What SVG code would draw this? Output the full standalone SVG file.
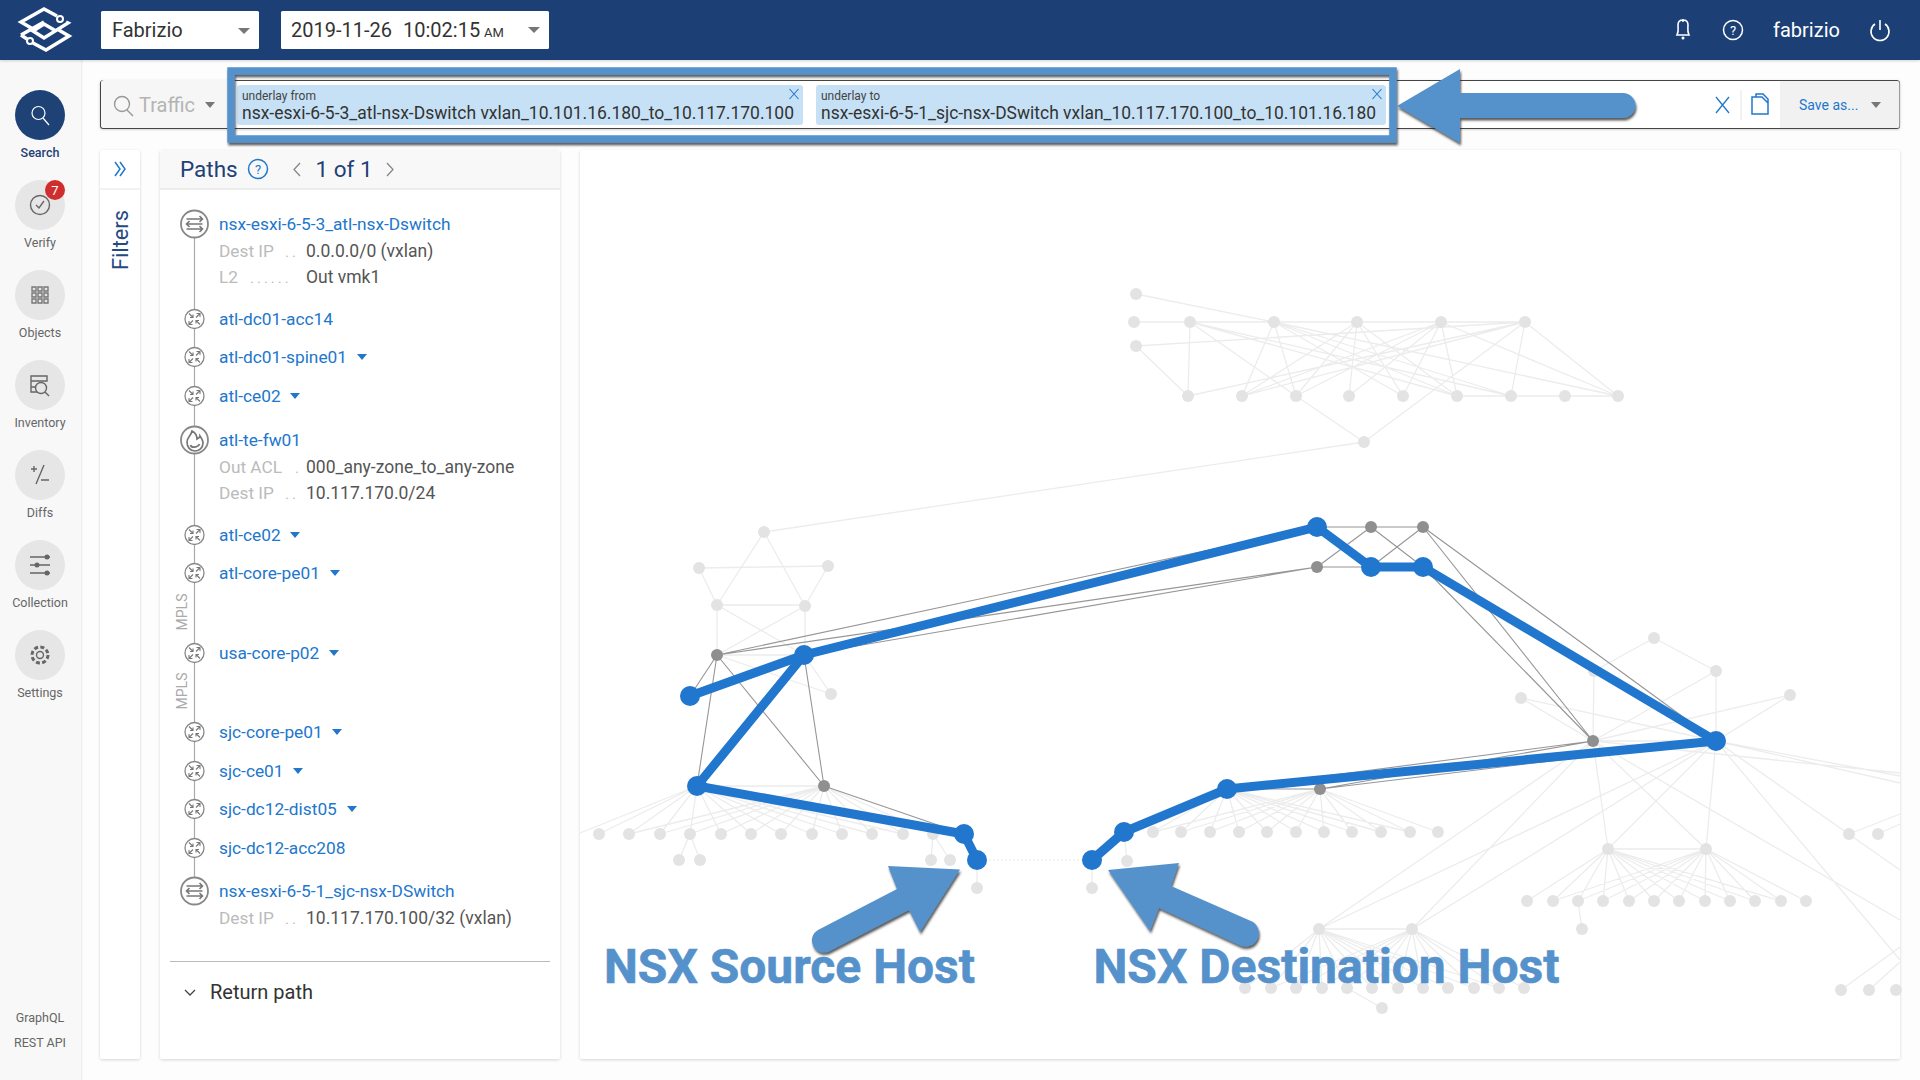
<svg xmlns="http://www.w3.org/2000/svg" xmlns:xlink="http://www.w3.org/1999/xlink" width="1920" height="1080" viewBox="0 0 1920 1080">
<style>
text{font-family:Roboto,"Liberation Sans",sans-serif}
.side{font-size:12.5px;fill:#666;text-anchor:middle}
.link{font-size:17.300px;fill:#2277cc}
.lab{font-size:17.300px;fill:#bbb}
.val{font-size:17.500px;fill:#555}
.dots{font-size:15px;fill:#bbb;letter-spacing:3px}
.mpls{font-size:14px;fill:#aaa;text-anchor:middle}
.tri{fill:#2277cc}
.gtri{fill:#777}
.cir{fill:#e6e6e6}
.ic{fill:none;stroke:#666;stroke-width:1.4}
.icw{fill:none;stroke:#fff;stroke-width:1.8}
.bl{fill:none;stroke:#2277cc;stroke-width:1.5}
.panel{fill:#fff;filter:url(#soft)}
.le{fill:none;stroke:#ececec;stroke-width:1.3}
.de{fill:none;stroke:#969696;stroke-width:1.1}
.be{fill:none;stroke:#2176cd;stroke-width:9;stroke-linejoin:round}
.ln circle{fill:#e3e3e3;r:6px}
.dn circle{fill:#8f8f8f;r:6px}
.bn circle{fill:#2176cd;r:10px}
.big{font-size:47.5px;font-weight:700;fill:#5592cc;stroke:#5592cc;stroke-width:.6}
.ann{fill:#5592cc;filter:url(#sh)}
</style>
<defs>
<filter id="sh" x="-10%" y="-10%" width="125%" height="125%"><feDropShadow dx="1" dy="2.5" stdDeviation="1" flood-color="#222" flood-opacity=".75"/></filter>
<filter id="soft" x="-5%" y="-5%" width="110%" height="110%"><feDropShadow dx="0" dy="1" stdDeviation="1.5" flood-color="#000" flood-opacity=".16"/></filter>
<g id="rt"><circle r="9.5" fill="#fff" stroke="#888" stroke-width="1.3"/><path class="ic" style="stroke:#777;stroke-width:1.1" d="M-5.500-5.500L-1.500-1.500M-1.500-4.500V-1.500H-4.500M5.500-5.500L1.500-1.500M2-5.500H5.500V-2M-5.500 5.500L-1.500 1.500M-5.500 2V5.500H-2M5.500 5.500L1.500 1.500M1.500 4.500V1.500H4.500"/></g>
<g id="sw"><circle r="13.500" fill="#fff" stroke="#888" stroke-width="1.800"/><path class="ic" style="stroke:#777;stroke-width:1.600" d="M-8-5H8M5-8L8-5 5-2M-8 0H8M-5-3L-8 0-5 3M-8 5H8M5 2L8 5 5 8"/></g>
<g id="chip-x"><path class="bl" d="M-4.500-5L4.500 5M4.500-5L-4.500 5" style="stroke-width:1.1"/></g>
</defs>
<rect width="1920" height="1080" fill="#fdfdfd"/>

<g id="sidebar">
<rect width="81" height="1080" fill="#f8f8f8" filter="url(#soft)"/>
<g id="nav-search"><circle cx="40" cy="115" r="25" fill="#1e4176"/><circle cx="38.500" cy="113" r="6.500" class="icw" style="stroke-width:1.2"/><path class="icw" style="stroke-width:1.2" d="M43 118L49 125"/><text x="40" y="157" class="side" style="fill:#1e4176;font-weight:500">Search</text></g>
<g id="nav-verify"><circle cx="40" cy="205" r="25" class="cir"/><circle cx="40" cy="205" r="9.500" class="ic"/><path class="ic" d="M36 205L39 208 44 201"/><text x="40" y="247" class="side">Verify</text><circle cx="55" cy="190" r="10" fill="#d02e2e"/><text x="55" y="195" text-anchor="middle" font-size="13" fill="#fff">7</text></g>
<g id="nav-objects"><circle cx="40" cy="295" r="25" class="cir"/><path class="ic" style="stroke:#777" d="M32 287h4v4h-4zM38 287h4v4h-4zM44 287h4v4h-4zM32 293h4v4h-4zM38 293h4v4h-4zM44 293h4v4h-4zM32 299h4v4h-4zM38 299h4v4h-4zM44 299h4v4h-4z"/><text x="40" y="337" class="side">Objects</text></g>
<g id="nav-inventory"><circle cx="40" cy="385" r="25" class="cir"/><path class="ic" d="M37 392H31V376H47V381H31M31 387H35"/><circle cx="41" cy="388" r="5.500" class="ic"/><path class="ic" d="M45 392L49 396"/><text x="40" y="427" class="side">Inventory</text></g>
<g id="nav-diffs"><circle cx="40" cy="475" r="25" class="cir"/><path class="ic" d="M44 465L36 484M31 469H37M34 466V472M41 480H49"/><text x="40" y="517" class="side">Diffs</text></g>
<g id="nav-collection"><circle cx="40" cy="565" r="25" class="cir"/><path class="ic" d="M30 557H50M30 565H50M30 573H50"/><circle cx="47" cy="557" r="2.500" fill="#666"/><circle cx="37" cy="565" r="2.500" fill="#666"/><circle cx="47" cy="573" r="2.500" fill="#666"/><text x="40" y="607" class="side">Collection</text></g>
<g id="nav-settings"><circle cx="40" cy="655" r="25" class="cir"/><circle cx="40" cy="655" r="3.500" class="ic"/><circle cx="40" cy="655" r="8" class="ic" stroke-dasharray="4 2.300" style="stroke-width:3"/><text x="40" y="697" class="side">Settings</text></g>
<text x="40" y="1022" class="side">GraphQL</text>
<text x="40" y="1047" class="side">REST API</text>
</g>

<g id="topbar">
<rect width="1920" height="60" fill="#1e4176" filter="url(#soft)"/>
<g id="logo"><path class="icw" style="stroke-width:3.500" d="M57 16L44 9 21 22 33 29M66 22L68 23 44 38 33 31 44 24 56 31M21 35L44 22M21 35L27 39M33 43L46 50 69 36 57 29"/><circle cx="60" cy="19" r="3" fill="#1e4176" stroke="#fff" stroke-width="2"/><circle cx="30" cy="41" r="3" fill="#1e4176" stroke="#fff" stroke-width="2"/></g>
<rect x="101" y="11" width="158" height="38" rx="1.500" fill="#fff"/>
<text x="112" y="37" font-size="20" fill="#333">Fabrizio</text>
<path class="gtri" d="M238 28H250L244 34Z"/>
<rect x="281" y="11" width="268" height="38" rx="1.500" fill="#fff"/>
<text y="37" font-size="20" fill="#333"><tspan x="291">2019-11-26</tspan><tspan x="403">10:02:15</tspan><tspan x="484" font-size="13">AM</tspan></text>
<path class="gtri" d="M528 27H540L534 33Z"/>
<path class="icw" style="stroke-width:1.600" d="M1677 35C1679 31 1678 28 1678 25 1678 21 1680 20 1683 20 1686 20 1688 21 1688 25 1688 28 1687 31 1689 35ZM1683 19V22"/><circle cx="1683" cy="38" r="1.500" fill="#fff"/>
<circle cx="1733" cy="30" r="9.500" class="icw" style="stroke-width:1.500"/><text x="1733" y="35" text-anchor="middle" font-size="13" fill="#fff">?</text>
<text x="1773" y="37" font-size="20" fill="#fff">fabrizio</text>
<path class="icw" style="stroke-width:1.600" d="M1875 24A9 9 0 1 0 1885 24M1880 20V30"/>
</g>

<g id="searchbar">
<rect x="100.500" y="80.500" width="1799" height="48" rx="3" fill="#fff" stroke="#444" stroke-width="1.100" filter="url(#soft)"/>
<path d="M101 83a3 3 0 0 1 3-3H228V128H104a3 3 0 0 1-3-3Z" fill="#f6f6f6"/>
<path d="M1780 81H1897a2.500 2.500 0 0 1 2.500 2.500V125.500a2.500 2.500 0 0 1-2.500 2.500H1780Z" fill="#f1f1f1"/>
<circle cx="122" cy="104" r="7.500" class="ic" style="stroke:#999"/><path class="ic" style="stroke:#999" d="M127 110L133 116"/>
<text x="139" y="112" font-size="20" fill="#b4b4b4">Traffic</text>
<path class="gtri" d="M205 102H215L210 108Z"/>
<g id="chip-from"><rect x="237" y="85" width="566" height="40" rx="3" fill="#c6e1f5"/><text x="242" y="100" font-size="12" fill="#444">underlay from</text><text x="242" y="119" font-size="17.500" fill="#333" textLength="552" lengthAdjust="spacingAndGlyphs">nsx-esxi-6-5-3_atl-nsx-Dswitch vxlan_10.101.16.180_to_10.117.170.100</text><use xlink:href="#chip-x" href="#chip-x" x="794" y="94"/></g>
<g id="chip-to"><rect x="816" y="85" width="570" height="40" rx="3" fill="#c6e1f5"/><text x="821" y="100" font-size="12" fill="#444">underlay to</text><text x="821" y="119" font-size="17.500" fill="#333" textLength="555" lengthAdjust="spacingAndGlyphs">nsx-esxi-6-5-1_sjc-nsx-DSwitch vxlan_10.117.170.100_to_10.101.16.180</text><use xlink:href="#chip-x" href="#chip-x" x="1377" y="94"/></g>
<path class="bl" style="stroke-width:1.300" d="M1716 97L1729 113M1729 97L1716 113"/>
<path d="M1741 90V120" stroke="#e4e4e4" fill="none"/>
<path class="bl" d="M1752 97H1762L1768 103V114H1752ZM1756 97V94H1763L1768 99V103"/>
<text x="1799" y="110" font-size="14" fill="#2277cc">Save as...</text>
<path class="gtri" d="M1871 102H1881L1876 108Z"/>
</g>

<g id="filters-panel">
<rect x="100" y="150" width="40" height="909" rx="3" class="panel"/>
<path d="M100 189H140" stroke="#e4e4e4"/>
<path class="bl" d="M115 162L120 169 115 176M120 162L125 169 120 176"/>
<text transform="translate(128 270) rotate(-90)" font-size="22" fill="#254a80" textLength="60" lengthAdjust="spacingAndGlyphs">Filters</text>
</g>

<g id="paths-panel">
<rect x="160" y="150" width="400" height="909" rx="3" class="panel"/>
<path d="M160 153a3 3 0 0 1 3-3H557a3 3 0 0 1 3 3V189H160Z" fill="#f8f8f8"/>
<path d="M160 189H560" stroke="#ddd"/>
<text x="180" y="177" font-size="22.500" fill="#1e4176">Paths</text>
<circle cx="258" cy="169" r="9.500" class="bl"/><text x="258" y="174" text-anchor="middle" font-size="13" fill="#2277cc">?</text>
<path fill="none" stroke="#888" stroke-width="1.300" d="M300 163L294 169.500 300 176M387 163L393 169.500 387 176"/>
<text x="315.500" y="177" font-size="22.500" fill="#1e4176">1 of 1</text>
<path d="M194.500 224V891" stroke="#aaa" stroke-width="1.200"/>
<text class="mpls" transform="translate(187 612) rotate(-90)">MPLS</text>
<text class="mpls" transform="translate(187 691) rotate(-90)">MPLS</text>

<g id="hop-1"><use xlink:href="#sw" href="#sw" x="194.500" y="224"/><text x="219" y="230" class="link">nsx-esxi-6-5-3_atl-nsx-Dswitch</text><text x="219" y="257" class="lab">Dest IP</text><text x="285" y="257" class="dots">..</text><text x="306" y="257" class="val">0.0.0.0/0 (vxlan)</text><text x="219" y="283" class="lab">L2</text><text x="250" y="283" class="dots">......</text><text x="306" y="283" class="val">Out vmk1</text></g>
<g id="hop-2"><use xlink:href="#rt" href="#rt" x="194.500" y="319"/><text x="219" y="325" class="link">atl-dc01-acc14</text></g>
<g id="hop-3"><use xlink:href="#rt" href="#rt" x="194.500" y="357"/><text x="219" y="363" class="link">atl-dc01-spine01</text><path class="tri" d="M357 354H367L362 360Z"/></g>
<g id="hop-4"><use xlink:href="#rt" href="#rt" x="194.500" y="396"/><text x="219" y="402" class="link">atl-ce02</text><path class="tri" d="M290 393H300L295 399Z"/></g>
<g id="hop-5"><circle cx="194.500" cy="440" r="13.500" fill="#fff" stroke="#888" stroke-width="1.800"/><path class="ic" style="stroke:#777;stroke-width:1.700" d="M187 442C187 437 191 436 192 431 196 433 197 436 197 439 199 438 200 437 200 436 202 439 203 441 203 443 203 448 199 451 195 451 190 451 187 447 187 442ZM190.500 445C191 448 198 448 199.500 444"/><text x="219" y="446" class="link">atl-te-fw01</text><text x="219" y="473" class="lab">Out ACL</text><text x="295" y="473" class="dots">.</text><text x="306" y="473" class="val">000_any-zone_to_any-zone</text><text x="219" y="499" class="lab">Dest IP</text><text x="285" y="499" class="dots">..</text><text x="306" y="499" class="val">10.117.170.0/24</text></g>
<g id="hop-6"><use xlink:href="#rt" href="#rt" x="194.500" y="535"/><text x="219" y="541" class="link">atl-ce02</text><path class="tri" d="M290 532H300L295 538Z"/></g>
<g id="hop-7"><use xlink:href="#rt" href="#rt" x="194.500" y="573"/><text x="219" y="579" class="link">atl-core-pe01</text><path class="tri" d="M330 570H340L335 576Z"/></g>
<g id="hop-8"><use xlink:href="#rt" href="#rt" x="194.500" y="653"/><text x="219" y="659" class="link">usa-core-p02</text><path class="tri" d="M329 650H339L334 656Z"/></g>
<g id="hop-9"><use xlink:href="#rt" href="#rt" x="194.500" y="732"/><text x="219" y="738" class="link">sjc-core-pe01</text><path class="tri" d="M332 729H342L337 735Z"/></g>
<g id="hop-10"><use xlink:href="#rt" href="#rt" x="194.500" y="771"/><text x="219" y="777" class="link">sjc-ce01</text><path class="tri" d="M293 768H303L298 774Z"/></g>
<g id="hop-11"><use xlink:href="#rt" href="#rt" x="194.500" y="809"/><text x="219" y="815" class="link">sjc-dc12-dist05</text><path class="tri" d="M347 806H357L352 812Z"/></g>
<g id="hop-12"><use xlink:href="#rt" href="#rt" x="194.500" y="848"/><text x="219" y="854" class="link">sjc-dc12-acc208</text></g>
<g id="hop-13"><use xlink:href="#sw" href="#sw" x="194.500" y="891"/><text x="219" y="897" class="link">nsx-esxi-6-5-1_sjc-nsx-DSwitch</text><text x="219" y="924" class="lab">Dest IP</text><text x="285" y="924" class="dots">..</text><text x="306" y="924" class="val">10.117.170.100/32 (vxlan)</text></g>
<path d="M170 961.500H550" stroke="#bbb"/>
<path fill="none" stroke="#444" stroke-width="1.300" d="M185 990L190 995 195 990"/>
<text x="210" y="999" font-size="20" fill="#333">Return path</text>
</g>

<rect id="graph-panel" x="580" y="150" width="1320" height="909" rx="3" class="panel"/>

<g id="connectors">
<path class="le" d="M1136 294L1274 322M1134 322H1525M1136 346L1525 322M1136 346L1188 396M1190 322L1188 396M1190 322L1296 396M1190 322L1457 396M1190 322L1511 396M1274 322L1242 396M1274 322L1296 396M1274 322L1403 396M1274 322L1457 396M1274 322L1511 396M1274 322L1618 396M1357 322L1242 396M1357 322L1296 396M1357 322L1349 396M1357 322L1403 396M1357 322L1457 396M1441 322L1242 396M1441 322L1296 396M1441 322L1349 396M1441 322L1403 396M1441 322L1457 396M1441 322L1618 396M1525 322L1188 396M1525 322L1242 396M1525 322L1364 442M1525 322L1511 396M1525 322L1618 396M1457 396H1618M1296 396L1364 442M1364 442L764 532"/>
<path class="le" d="M764 532L717 605M764 532L805 606M699 568L828 566M699 568L717 605M828 566L805 606M717 605H805M717 605L804 655M805 606L717 655M717 605V655M805 606V655M717 655H804M717 655L831 694M804 655L831 694M697 786H824"/>
<path class="le" d="M697 786L580 833M697 786L599 834M697 786L629 834M697 786L660 834M697 786L690 834M697 786L721 834M697 786L751 834M697 786L781 834M697 786L812 834M697 786L842 834M697 786L872 834M697 786L903 834M824 786L629 834M824 786L660 834M824 786L690 834M824 786L721 834M824 786L751 834M824 786L781 834M824 786L812 834M824 786L842 834M824 786L872 834M824 786L903 834M824 786L933 834M690 834L679 860M690 834L700 860M933 834L931 860M933 834L950 860M977 860V888M1092 860V888M1124 832L1127 861"/>
<path class="le" d="M1227 789L1153 832M1227 789L1181 832M1227 789L1210 832M1227 789L1239 832M1227 789L1267 832M1227 789L1296 832M1227 789L1324 832M1227 789L1352 832M1227 789L1381 832M1227 789L1410 832M1320 789L1153 832M1320 789L1181 832M1320 789L1210 832M1320 789L1239 832M1320 789L1267 832M1320 789L1296 832M1320 789L1324 832M1320 789L1352 832M1320 789L1381 832M1320 789L1410 832M1320 789L1438 832"/>
<path class="le" d="M1654 638L1594 671M1654 638L1716 671M1716 671V741M1716 671L1593 741M1594 671L1593 741M1594 671L1716 741M1521 698L1716 741M1521 698L1593 741M1790 695L1593 741M1790 695L1716 741M1593 741H1716M1593 741L1608 849M1593 741L1706 849M1716 741L1608 849M1716 741L1706 849M1608 849H1706M1593 741L1319 929M1593 741L1412 929M1716 741L1319 929M1716 741L1412 929M1593 741L1900 773M1716 741L1900 776M1716 741L1900 783M1716 741L1900 870M1593 741L1900 920M1716 741L1900 960M1319 929H1412M1578 901L1582 929M1347 988L1382 1008M1849 834L1900 814M1878 834L1900 824M1841 990L1900 947M1869 990L1900 962"/>
<path class="le" d="M1608 849L1527 901M1608 849L1553 901M1608 849L1578 901M1608 849L1603 901M1608 849L1629 901M1608 849L1654 901M1608 849L1679 901M1608 849L1705 901M1608 849L1730 901M1608 849L1755 901M1608 849L1781 901M1706 849L1553 901M1706 849L1578 901M1706 849L1603 901M1706 849L1629 901M1706 849L1654 901M1706 849L1679 901M1706 849L1705 901M1706 849L1730 901M1706 849L1755 901M1706 849L1781 901M1706 849L1806 901"/>
<path class="le" d="M1319 929L1245 988M1319 929L1271 988M1319 929L1296 988M1319 929L1322 988M1319 929L1347 988M1319 929L1372 988M1319 929L1398 988M1319 929L1423 988M1319 929L1448 988M1319 929L1474 988M1319 929L1499 988M1412 929L1271 988M1412 929L1296 988M1412 929L1322 988M1412 929L1347 988M1412 929L1372 988M1412 929L1398 988M1412 929L1423 988M1412 929L1448 988M1412 929L1474 988M1412 929L1499 988M1412 929L1524 988"/>
<path d="M977 860H1092" fill="none" stroke="#e6e6e6" stroke-dasharray="2 2"/>
<path class="de" d="M717 655L690 696M717 655L697 786M717 655L824 786M804 655L824 786M824 786L964 834M717 655L1317 527M717 655L1317 567M804 655L1317 567M1317 527H1423M1317 567H1371M1317 567L1371 527M1371 527L1423 567M1423 527L1371 567M1423 567L1593 741M1423 527L1593 741M1423 527L1716 741M1593 741L1320 789M1716 741L1320 789M1593 741L1227 789M1227 789H1320"/>
</g>

<g id="nodes-light" class="ln">
<circle cx="1136" cy="294"/><circle cx="1134" cy="322"/><circle cx="1136" cy="346"/><circle cx="1190" cy="322"/><circle cx="1274" cy="322"/><circle cx="1357" cy="322"/><circle cx="1441" cy="322"/><circle cx="1525" cy="322"/>
<circle cx="1188" cy="396"/><circle cx="1242" cy="396"/><circle cx="1296" cy="396"/><circle cx="1349" cy="396"/><circle cx="1403" cy="396"/><circle cx="1457" cy="396"/><circle cx="1511" cy="396"/><circle cx="1565" cy="396"/><circle cx="1618" cy="396"/><circle cx="1364" cy="442"/>
<circle cx="764" cy="532"/><circle cx="699" cy="568"/><circle cx="828" cy="566"/><circle cx="717" cy="605"/><circle cx="805" cy="606"/><circle cx="831" cy="694"/>
<circle cx="599" cy="834"/><circle cx="629" cy="834"/><circle cx="660" cy="834"/><circle cx="690" cy="834"/><circle cx="721" cy="834"/><circle cx="751" cy="834"/><circle cx="781" cy="834"/><circle cx="812" cy="834"/><circle cx="842" cy="834"/><circle cx="872" cy="834"/><circle cx="903" cy="834"/><circle cx="933" cy="834"/>
<circle cx="679" cy="860"/><circle cx="700" cy="860"/><circle cx="931" cy="860"/><circle cx="950" cy="860"/><circle cx="977" cy="888"/><circle cx="1092" cy="888"/><circle cx="1127" cy="861"/>
<circle cx="1153" cy="832"/><circle cx="1181" cy="832"/><circle cx="1210" cy="832"/><circle cx="1239" cy="832"/><circle cx="1267" cy="832"/><circle cx="1296" cy="832"/><circle cx="1324" cy="832"/><circle cx="1352" cy="832"/><circle cx="1381" cy="832"/><circle cx="1410" cy="832"/><circle cx="1438" cy="832"/>
<circle cx="1654" cy="638"/><circle cx="1716" cy="671"/><circle cx="1594" cy="671"/><circle cx="1521" cy="698"/><circle cx="1790" cy="695"/><circle cx="1608" cy="849"/><circle cx="1706" cy="849"/>
<circle cx="1527" cy="901"/><circle cx="1553" cy="901"/><circle cx="1578" cy="901"/><circle cx="1603" cy="901"/><circle cx="1629" cy="901"/><circle cx="1654" cy="901"/><circle cx="1679" cy="901"/><circle cx="1705" cy="901"/><circle cx="1730" cy="901"/><circle cx="1755" cy="901"/><circle cx="1781" cy="901"/><circle cx="1806" cy="901"/><circle cx="1582" cy="929"/>
<circle cx="1319" cy="929"/><circle cx="1412" cy="929"/>
<circle cx="1245" cy="988"/><circle cx="1271" cy="988"/><circle cx="1296" cy="988"/><circle cx="1322" cy="988"/><circle cx="1347" cy="988"/><circle cx="1372" cy="988"/><circle cx="1398" cy="988"/><circle cx="1423" cy="988"/><circle cx="1448" cy="988"/><circle cx="1474" cy="988"/><circle cx="1499" cy="988"/><circle cx="1524" cy="988"/><circle cx="1382" cy="1008"/>
<circle cx="1849" cy="834"/><circle cx="1878" cy="834"/><circle cx="1841" cy="990"/><circle cx="1869" cy="990"/><circle cx="1896" cy="990"/>
</g>
<g id="nodes-dark" class="dn">
<circle cx="717" cy="655"/><circle cx="824" cy="786"/><circle cx="1371" cy="527"/><circle cx="1423" cy="527"/><circle cx="1317" cy="567"/><circle cx="1320" cy="789"/><circle cx="1593" cy="741"/>
</g>
<g id="path-connectors">
<path class="be" d="M690 696L804 655 1317 527 1371 567 1423 567 1716 741 1227 789 1124 832 1092 860"/>
<path class="be" d="M804 655L697 786 964 834 977 860"/>
</g>
<g id="nodes-path" class="bn">
<circle cx="804" cy="655"/><circle cx="690" cy="696"/><circle cx="697" cy="786"/><circle cx="964" cy="834"/><circle cx="977" cy="860"/><circle cx="1317" cy="527"/><circle cx="1371" cy="567"/><circle cx="1423" cy="567"/><circle cx="1716" cy="741"/><circle cx="1227" cy="789"/><circle cx="1124" cy="832"/><circle cx="1092" cy="860"/>
</g>

<g id="annotations">
<rect x="231" y="71" width="1162" height="68" fill="none" stroke="#5592cc" stroke-width="7.500" filter="url(#sh)"/>
<path class="ann" d="M1397 106L1460 69V93H1623A12.500 12.500 0 0 1 1623 118H1460V143Z"/>
<path class="ann" d="M960 869.500L888 866 897 889 818 930A12 12 0 0 0 830 951L909 910 920 932Z"/>
<path class="ann" d="M1108 870L1179 863 1171 886 1252.600 921.700A13.500 13.500 0 0 1 1239 945L1159 908 1150 931Z"/>
<text x="604" y="983" class="big" textLength="371" lengthAdjust="spacingAndGlyphs">NSX Source Host</text>
<text x="1093.500" y="983" class="big" textLength="466" lengthAdjust="spacingAndGlyphs">NSX Destination Host</text>
</g>
</svg>
